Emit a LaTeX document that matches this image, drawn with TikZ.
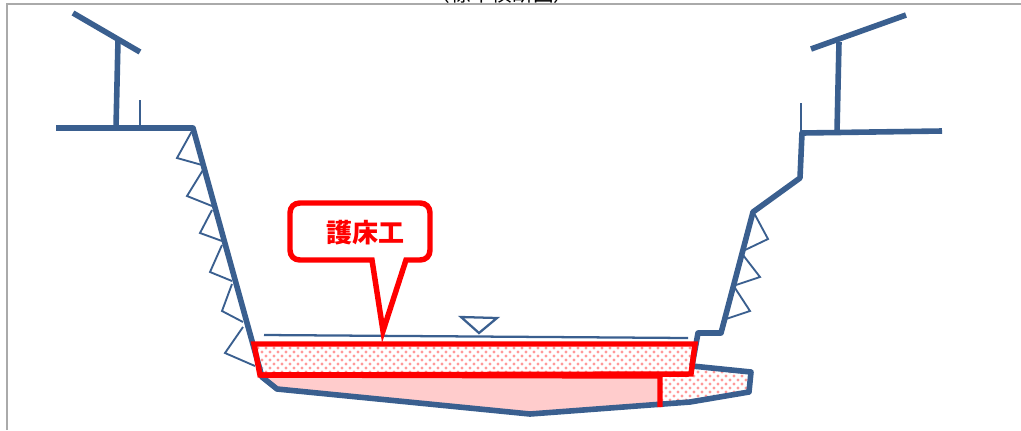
\documentclass[tikz,border=0pt]{standalone}
\usepackage{fontspec}
\newfontfamily\cjkfont{Noto Sans CJK JP}
\usetikzlibrary{patterns}
\definecolor{bankblue}{RGB}{58,95,143}
\definecolor{bedred}{RGB}{255,0,0}
\definecolor{bedpink}{RGB}{255,204,204}
\definecolor{framegray}{RGB}{170,170,170}
\pgfdeclarepatternformonly{beddots}{\pgfqpoint{-1pt}{-1pt}}{\pgfqpoint{6pt}{6pt}}{\pgfqpoint{6pt}{6pt}}{
    \pgfpathcircle{\pgfqpoint{1.5pt}{1.5pt}}{1.15pt}
    \pgfpathcircle{\pgfqpoint{4.5pt}{4.5pt}}{1.15pt}
    \pgfusepath{fill}
}
\begin{document}
\begin{tikzpicture}[
        x=0.75pt, y=-0.75pt,
        bank/.style={draw=bankblue, line width=4.2pt, line join=round},
        thinbank/.style={draw=bankblue, line width=1.4pt, line join=miter},
        bedline/.style={draw=bedred, line width=4.1pt, line join=miter},
        dotfill/.style={pattern=beddots, pattern color=bedred!40}
    ]
        \useasboundingbox (0,0) rectangle (1021,430);

        % frame and the cut-off title
        \begin{scope}
            \clip (0,0) rectangle (1021,3.5);
            \node[anchor=south, inner sep=0pt, font=\cjkfont\fontsize{15.5}{16}\selectfont] (title) at (502,3.5) {（標準横断図）};
        \end{scope}
        \draw[framegray, line width=0.8pt] (7,430) -- (7,4) -- (1021,4);

        % fills under the bed
        \path[dotfill] (660,376) -- (691,374) -- (692,366) -- (750,373) -- (749,392) -- (690,402) -- (660,405) -- cycle;
        \fill[bedpink] (262,376) -- (277,389) -- (530,414) -- (660,404) -- (660,376) -- cycle;
        \path[dotfill] (254,344) -- (695,344) -- (691,374) -- (260,375) -- cycle;

        % left bank
        \draw[bank] (56,128) -- (193,128) -- (262,377) -- (277,389) -- (530,414) -- (690,402) -- (749,392) -- (751,372) -- (692,366);
        \draw[bank] (73,13) -- (140,52);
        \draw[bank] (118,40) -- (116,128);
        \draw[thinbank, line width=1.7pt] (140,100) -- (140,128);
        \foreach \ax/\ay/\bx/\by/\cx/\cy in {192/131/177/158/202/165, 203/170/187/196/212/206, 212/210/200/233/222/241, 222/245/210/272/232/281, 232/284/222/311/243/322, 243/327/225/353/255/366}
            \draw[thinbank] (\ax,\ay) -- (\bx,\by) -- (\cx,\cy);

        % right bank
        \draw[bank] (692,366) -- (698,333) -- (721,333) -- (753,212) -- (800,178) -- (802,133) -- (942,131);
        \draw[bank] (811,49) -- (906,15);
        \draw[bank] (839,42) -- (837,132);
        \draw[thinbank, line width=1.7pt] (801,103) -- (801,133);
        \foreach \ax/\ay/\bx/\by/\cx/\cy in {754/213/768/239/745/250, 743/255/760/277/736/285, 735/288/750/311/726/319}
            \draw[thinbank] (\ax,\ay) -- (\bx,\by) -- (\cx,\cy);

        % water level
        \draw[thinbank, line width=1.7pt] (264,335) -- (688,338);
        \draw[thinbank, line width=1.7pt] (461,317) -- (497,318) -- (479,333) -- cycle;

        % bed protection
        \draw[bedline] (254,344) -- (695,344) -- (691,374) -- (260,375) -- cycle;
        \draw[bedline] (260,375) -- (660,376) -- (660,407);

        % callout
        \draw[bedline, fill=white] (300,203) -- (420,203) .. controls (426,203) and (430,207) .. (430,213) -- (430,250) .. controls (430,256) and (426,260) .. (420,260) -- (406,260) -- (383,331) -- (372,260) -- (300,260) .. controls (294,260) and (290,256) .. (290,250) -- (290,213) .. controls (290,207) and (294,203) .. (300,203) -- cycle;
        \node[text=bedred, font=\cjkfont\bfseries\fontsize{19.5}{20}\selectfont, inner sep=0pt] (bedlabel) at (365,233) {護床工};
    \end{tikzpicture}
\end{document}
